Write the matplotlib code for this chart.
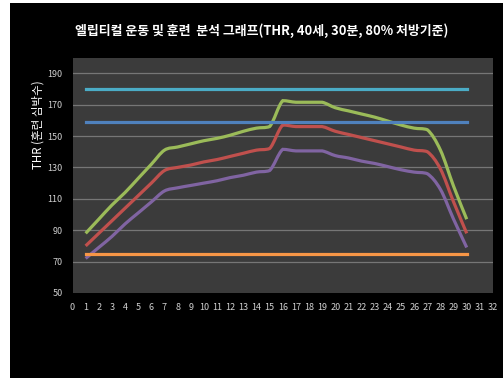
import numpy as np
import matplotlib
matplotlib.use("Agg")
from matplotlib import pyplot as plt
from matplotlib.path import Path
from matplotlib.patches import PathPatch, Rectangle

plt.rcParams['font.family'] = ['Noto Sans CJK KR', 'DejaVu Sans']

minutes = list(range(1, 31))
thr_high = [88, 97, 106, 114, 123, 132, 141, 143, 145, 147, 148.5, 150.5, 153, 155, 156,
            172.5, 171.5, 171.5, 171.5, 168, 166, 164, 162, 159.5, 157, 155, 154, 141, 118, 97]
thr_mid = [80, 88, 96, 104, 112, 120, 128, 130, 131.5, 133.5, 135, 137, 139, 141, 142,
           157, 156, 156, 156, 153, 151, 149, 147, 145, 143, 141, 140, 129, 108, 88]
thr_low = [72, 79, 86, 94, 101, 108, 115, 117, 118.5, 120, 121.5, 123.5, 125, 127, 128,
           141.5, 140.5, 140.5, 140.5, 137.5, 136, 134, 132.5, 130.5, 128.5, 127, 126, 116, 97, 79]
hr_max = 180
hr_target = 159
hr_rest = 75

title = "엘립티컬 운동 및 훈련  분석 그래프(THR, 40세, 30분, 80% 처방기준)"
ylabel = "THR (훈련 심박수)"


def smooth_path(xs, ys):
    # smoothed line as cubic bezier segments, control points kept inside each segment
    pts = np.column_stack([xs, ys]).astype(float)
    n = len(pts)
    verts = [pts[0]]
    codes = [Path.MOVETO]
    for i in range(n - 1):
        p0 = pts[i - 1] if i > 0 else pts[i]
        p1 = pts[i]
        p2 = pts[i + 1]
        p3 = pts[i + 2] if i + 2 < n else pts[i + 1]
        c1 = p1 + (p2 - p0) / 6
        c2 = p2 - (p3 - p1) / 6
        lo, hi = min(p1[1], p2[1]), max(p1[1], p2[1])
        c1[1] = np.clip(c1[1], lo, hi)
        c2[1] = np.clip(c2[1], lo, hi)
        verts += [c1, c2, p2]
        codes += [Path.CURVE4] * 3
    return Path(verts, codes)


fig = plt.figure(figsize=(5.03, 3.79), dpi=100, facecolor='white')
fig.patches.append(Rectangle((10 / 503, 1 / 379), 493 / 503, 375 / 379,
                             transform=fig.transFigure, facecolor='black',
                             edgecolor='none', zorder=-1))

ax = fig.add_axes([72.5 / 503, 1 - 293 / 379, 420.5 / 503, 235.5 / 379])
ax.set_facecolor('#3b3b3b')
for s in ax.spines.values():
    s.set_visible(False)

ax.set_xlim(0, 32)
ax.set_ylim(50, 200)
ax.set_xticks(range(0, 33))
ax.set_yticks(range(50, 191, 20))
ax.tick_params(length=0, colors='#d0d0d0', labelsize=6.5)
ax.tick_params(axis='x', pad=7)
ax.tick_params(axis='y', pad=7)
for v in range(70, 191, 20):
    ax.axhline(v, color='#767676', lw=0.9, zorder=1)

lw = 2.3
ax.plot([minutes[0], minutes[-1]], [hr_max] * 2, color='#4bacc6', lw=lw, zorder=3)
ax.plot([minutes[0], minutes[-1]], [hr_target] * 2, color='#4f81bd', lw=lw, zorder=3)
ax.plot([minutes[0], minutes[-1]], [hr_rest] * 2, color='#f79646', lw=lw, zorder=3)
for ys, c in [(thr_high, '#9bbb59'), (thr_mid, '#c0504d'), (thr_low, '#8064a2')]:
    ax.add_patch(PathPatch(smooth_path(minutes, ys), facecolor='none', edgecolor=c,
                           lw=lw, capstyle='butt', zorder=2))

fig.text(262 / 503, 1 - 31 / 379, title, color='white', fontsize=9.3,
         fontweight='bold', ha='center', va='center')
fig.text(38 / 503, 1 - 125 / 379, ylabel, color='white', fontsize=8.3,
         rotation=90, ha='center', va='center')

fig.savefig('out.png', dpi=100, facecolor=fig.get_facecolor())
